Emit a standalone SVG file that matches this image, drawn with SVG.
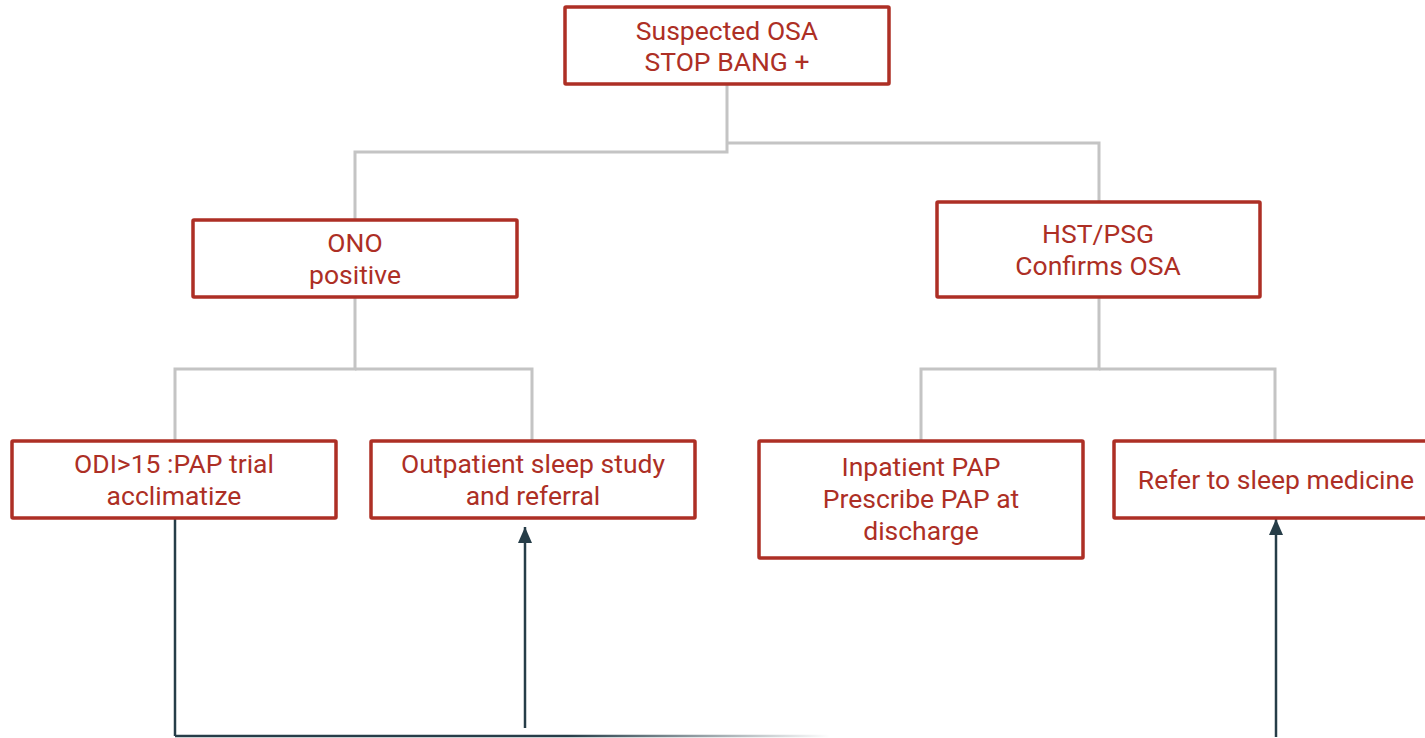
<svg xmlns="http://www.w3.org/2000/svg" width="1425" height="738" viewBox="0 0 1425 738">
<style>
.box{fill:#fff;stroke:#ad2f25;stroke-width:3.5}
.t{font-family:Roboto,"Liberation Sans",sans-serif;font-size:26.5px;fill:#ad2f25;text-anchor:middle}
.gray{fill:none;stroke:#c4c4c4;stroke-width:3}
.dark{fill:none;stroke:#263d48;stroke-width:2.5}
</style>
<defs>
<marker id="ah" markerWidth="16" markerHeight="14" refX="16" refY="7" orient="auto" markerUnits="userSpaceOnUse" viewBox="0 0 16 14">
<path d="M0,0 L16,7 L0,14 Z" fill="#263d48"/>
</marker>
<linearGradient id="fade" gradientUnits="userSpaceOnUse" x1="175" y1="0" x2="830" y2="0">
<stop offset="0" stop-color="#263d48"/>
<stop offset="0.6" stop-color="#263d48"/>
<stop offset="1" stop-color="#263d48" stop-opacity="0"/>
</linearGradient>
</defs>
<g id="connectors">
<path class="gray" d="M727,84 V152 H355 V220"/>
<path class="gray" d="M727,143 H1099 V202"/>
<path class="gray" d="M355,297 V369 H175 V441"/>
<path class="gray" d="M355,369 H532 V441"/>
<path class="gray" d="M1099,297 V369 H921 V441"/>
<path class="gray" d="M1099,369 H1275 V441"/>
<path class="dark" d="M175,518 V736"/>
<path d="M175,736 H830" fill="none" stroke="url(#fade)" stroke-width="2.5"/>
<path class="dark" d="M525,728 V527" marker-end="url(#ah)"/>
<path class="dark" d="M1276,737 V519" marker-end="url(#ah)"/>
</g>
<g id="n_top"><rect class="box" x="565" y="7" width="324" height="77" rx="1"/>
<text class="t" x="727" y="40">Suspected OSA</text><text class="t" x="727" y="71">STOP BANG +</text></g>
<g id="n_ono"><rect class="box" x="193" y="220" width="324" height="77" rx="1"/>
<text class="t" x="355" y="252">ONO</text><text class="t" x="355" y="284">positive</text></g>
<g id="n_hst"><rect class="box" x="937" y="202" width="323" height="95" rx="1"/>
<text class="t" x="1098" y="243">HST/PSG</text><text class="t" x="1098" y="275">Confirms OSA</text></g>
<g id="n_odi"><rect class="box" x="12" y="441" width="324" height="77" rx="1"/>
<text class="t" x="174" y="473">ODI&gt;15 :PAP trial</text><text class="t" x="174" y="505">acclimatize</text></g>
<g id="n_out"><rect class="box" x="371" y="441" width="324" height="77" rx="1"/>
<text class="t" x="533" y="473">Outpatient sleep study</text><text class="t" x="533" y="505">and referral</text></g>
<g id="n_inp"><rect class="box" x="759" y="441" width="324" height="117" rx="1"/>
<text class="t" x="921" y="476">Inpatient PAP</text><text class="t" x="921" y="508">Prescribe PAP at</text><text class="t" x="921" y="540">discharge</text></g>
<g id="n_ref"><rect class="box" x="1114" y="441" width="324" height="77" rx="1"/>
<text class="t" x="1276" y="489">Refer to sleep medicine</text></g>
</svg>
